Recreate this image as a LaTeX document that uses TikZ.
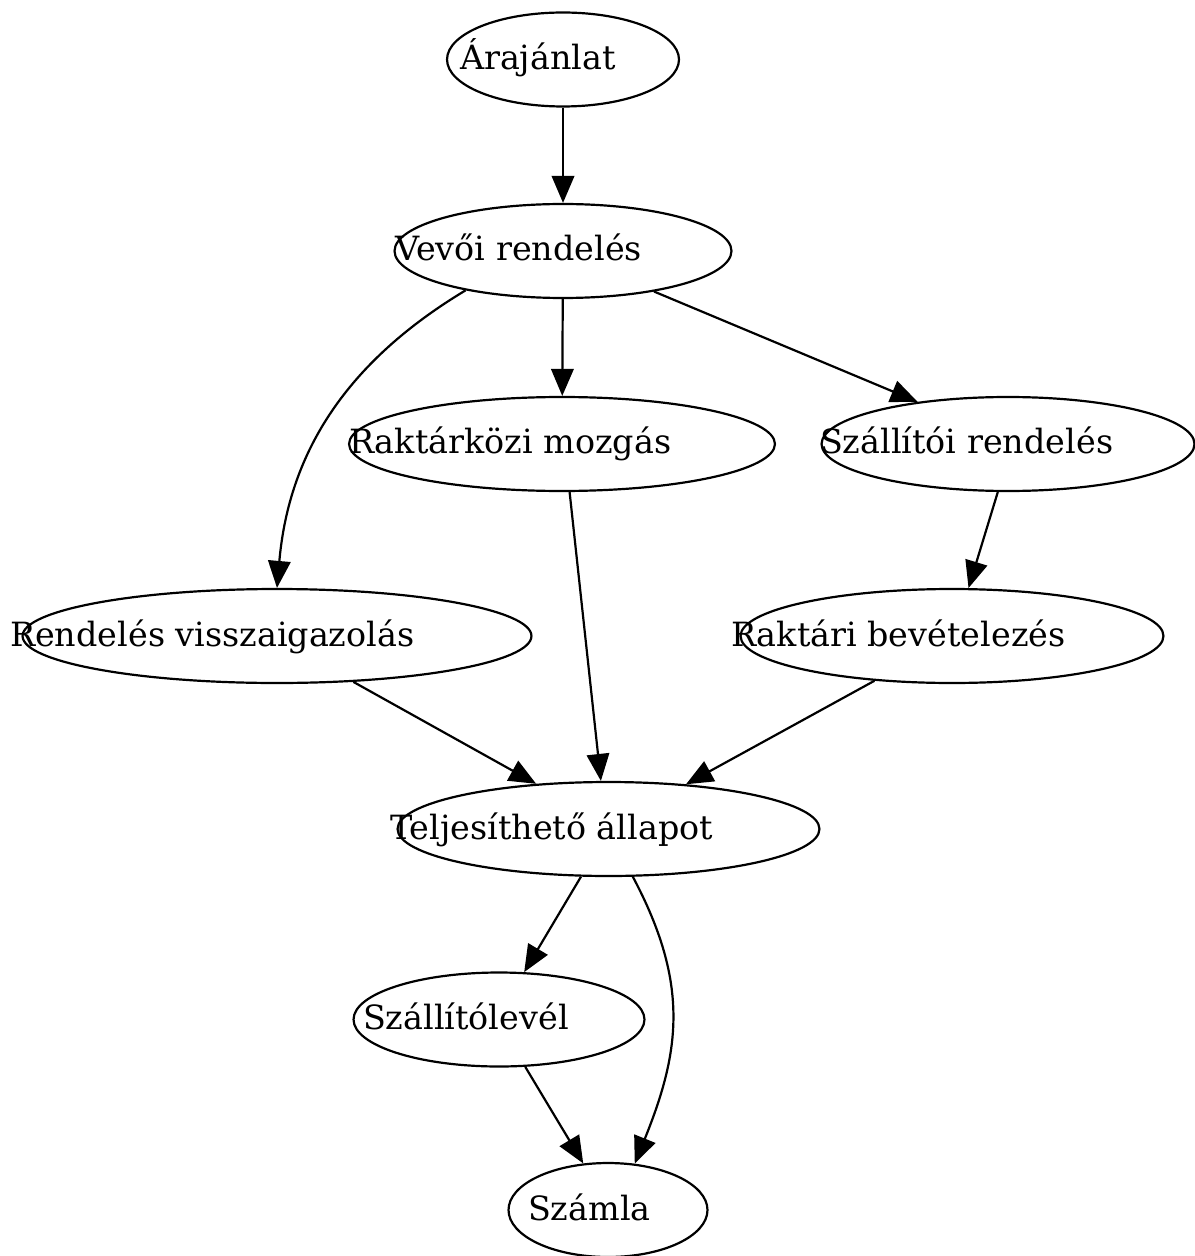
\documentclass[tikz,border=0pt]{standalone}
\usepackage{fontspec}
\setmainfont{DejaVu Serif}
\usetikzlibrary{shapes.geometric,arrows.meta}
\tikzset{>={Triangle[length=0.54cm,width=0.45cm]}}
\tikzset{state/.style={draw,ellipse,line width=1.25pt,inner sep=0pt,minimum height=1.88cm,
    font=\fontsize{19pt}{22pt}\selectfont}}
\newcommand{\lbl}[2]{\makebox[0pt][l]{\hspace*{#1}\raisebox{-0.2cm}[0pt][0pt]{#2}}}

\begin{document}
\begin{tikzpicture}[x=0.02cm,y=0.02cm,line width=1.25pt]
    \useasboundingbox (0,0) rectangle (1195,-1256);

    \node [state,minimum width=4.64cm] (arajanlat) at (563,-59.5) {\lbl{-2.06cm}{Árajánlat}};
    \node [state,minimum width=6.74cm] (vevoi) at (563,-251) {\lbl{-3.36cm}{Vevői rendelés}};
    \node [state,minimum width=8.52cm] (raktarkozi) at (562,-444) {\lbl{-4.26cm}{Raktárközi mozgás}};
    \node [state,minimum width=7.46cm] (szallitoi) at (1008,-444) {\lbl{-3.76cm}{Szállítói rendelés}};
    \node [state,minimum width=10.18cm] (visszaig) at (277,-636) {\lbl{-5.34cm}{Rendelés visszaigazolás}};
    \node [state,minimum width=8.46cm] (bevetel) at (952,-636) {\lbl{-4.42cm}{Raktári bevételezés}};
    \node [state,minimum width=8.44cm] (teljesitheto) at (608.5,-829) {\lbl{-4.37cm}{Teljesíthető állapot}};
    \node [state,minimum width=5.82cm] (szallitolevel) at (499,-1019.5) {\lbl{-2.72cm}{Szállítólevél}};
    \node [state,minimum width=3.98cm] (szamla) at (608,-1210) {\lbl{-1.60cm}{Számla}};

    \draw [->] (arajanlat) -- (vevoi);
    \draw [->] (vevoi) -- (raktarkozi);
    \draw [->] (vevoi.-24.5) -- (szallitoi.155);
    \draw [->] (vevoi.202) to[out=211,in=85] (visszaig.north);
    \draw [->] (raktarkozi.-81) -- (teljesitheto.99);
    \draw [->] (szallitoi.-102) -- (bevetel.71.6);
    \draw [->] (visszaig.-31) -- (teljesitheto.148.5);
    \draw [->] (bevetel.210) -- (teljesitheto.30.5);
    \draw [->] (teljesitheto.240) -- (szallitolevel.62);
    \draw [->] (szallitolevel.-61) -- (szamla.118.6);
    \draw [->] (teljesitheto.-63) to[out=-62,in=68,looseness=1.08] (szamla.60.4);
  \end{tikzpicture}
\end{document}
